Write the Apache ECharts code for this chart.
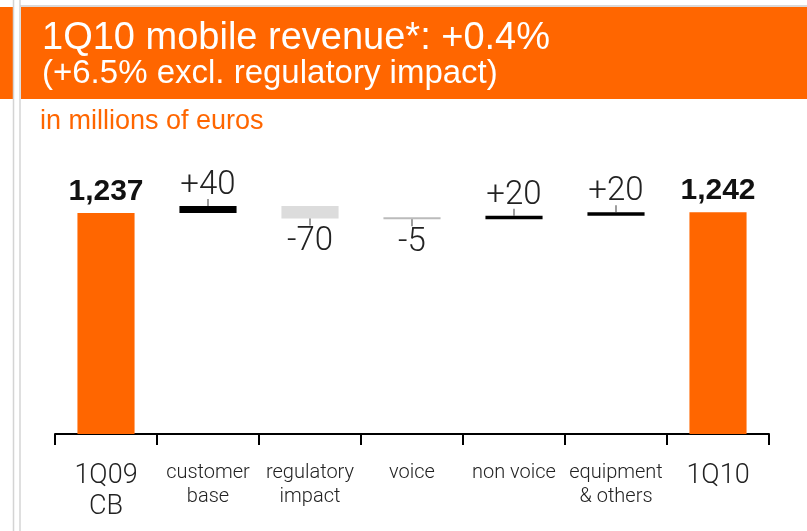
<!DOCTYPE html>
<html>
<head>
<meta charset="utf-8">
<script src="https://cdn.jsdelivr.net/npm/echarts@6/dist/echarts.min.js"></script>
<style>
  html, body { margin: 0; padding: 0; background: #fff; }
  #chart { width: 807px; height: 531px; }
</style>
</head>
<body>
<div id="chart"></div>
<script>
// data
const categories = ['1Q09\nCB', 'customer\nbase', 'regulatory\nimpact', 'voice', 'non voice', 'equipment\n& others', '1Q10'];
const startTotal = 1237;
const deltas = [40, -70, -5, 20, 20];
const endTotal = 1242;

const orange = '#ff6600';
const deltaColors = ['#000000', '#dcdcdc', '#bbbbbb', '#000000', '#000000'];

function totalLabel(v) {
  return { show: true, position: 'top', distance: 6, formatter: v.toLocaleString('en-US'),
    fontSize: 30, fontWeight: 'bold', color: '#111', lineHeight: 30, fontFamily: 'Liberation Sans' };
}

// build waterfall: invisible base + visible piece
const baseData = [0];
const valueData = [{ value: startTotal, itemStyle: { color: orange }, label: totalLabel(startTotal) }];
const tickData = [];
let running = startTotal;
deltas.forEach(function (d, i) {
  const next = running + d;
  baseData.push(Math.min(running, next));
  valueData.push({
    value: Math.abs(d),
    itemStyle: { color: deltaColors[i] },
    label: {
      show: true,
      position: d >= 0 ? 'top' : 'bottom',
      distance: d >= 0 ? 4 : 7,
      formatter: (d >= 0 ? '+' : '') + d,
      fontSize: 33, color: '#222', lineHeight: 33, fontFamily: 'Roboto', fontWeight: 300
    }
  });
  tickData.push({ value: [i + 1, next], symbolOffset: [0, d >= 0 ? -3.5 : 3.5] });
  running = next;
});
baseData.push(0);
valueData.push({ value: endTotal, itemStyle: { color: orange }, label: totalLabel(endTotal) });

const catItems = categories.map(function (c, i) {
  const big = (i === 0 || i === categories.length - 1);
  return {
    value: c,
    textStyle: big ? { fontSize: 27, lineHeight: 31 } : { fontSize: 20, lineHeight: 24 }
  };
});

const myChart = echarts.init(document.getElementById('chart'));
const option = {
  animation: false,
  backgroundColor: '#fff',
  graphic: [
    { type: 'rect', shape: { x: 0, y: 7, width: 13, height: 92 }, style: { fill: orange } },
    { type: 'line', shape: { x1: 13.5, y1: 0, x2: 13.5, y2: 531 }, style: { stroke: '#d4d4d4', lineWidth: 1.5 } },
    { type: 'line', shape: { x1: 20, y1: 0, x2: 20, y2: 531 }, style: { stroke: '#d4d4d4', lineWidth: 1.5 } },
    { type: 'line', shape: { x1: 20, y1: 6, x2: 807, y2: 6 }, style: { stroke: '#cccccc', lineWidth: 1.5 } },
    { type: 'rect', shape: { x: 21, y: 7, width: 786, height: 92 }, style: { fill: orange } }
  ],
  title: [{
    text: '1Q10 mobile revenue*: +0.4%',
    subtext: '(+6.5% excl. regulatory impact)',
    left: 42,
    top: 19,
    itemGap: -3,
    padding: 0,
    textStyle: { color: '#fff', fontSize: 38, fontWeight: 'normal', lineHeight: 40, fontFamily: 'Liberation Sans' },
    subtextStyle: { color: '#fff', fontSize: 33, lineHeight: 36, fontFamily: 'Liberation Sans' }
  }, {
    text: 'in millions of euros',
    left: 40,
    top: 107,
    padding: 0,
    textStyle: { color: orange, fontSize: 27, fontWeight: 'normal', lineHeight: 30, fontFamily: 'Liberation Sans' }
  }],
  grid: { left: 55, right: 38, top: 184, bottom: 97 },
  xAxis: {
    type: 'category',
    data: catItems,
    axisLine: { show: true, lineStyle: { color: '#000', width: 2 } },
    axisTick: { show: true, length: 11, interval: 0, lineStyle: { color: '#000', width: 2 } },
    axisLabel: { interval: 0, margin: 27, color: '#222', fontFamily: 'Roboto', fontWeight: 300 }
  },
  yAxis: { type: 'value', min: 0, max: 1400, show: false },
  series: [{
    name: 'base',
    type: 'bar',
    stack: 'w',
    barWidth: '56%',
    silent: true,
    itemStyle: { color: 'transparent' },
    data: baseData
  }, {
    name: 'value',
    type: 'bar',
    stack: 'w',
    barWidth: '56%',
    barMinHeight: 2,
    data: valueData
  }, {
    name: 'tick',
    type: 'scatter',
    symbol: 'rect',
    symbolSize: [1.2, 7],
    itemStyle: { color: '#333' },
    z: 5,
    data: tickData
  }]
};
myChart.setOption(option);
window.onresize = function () { myChart.resize(); };
</script>
</body>
</html>
